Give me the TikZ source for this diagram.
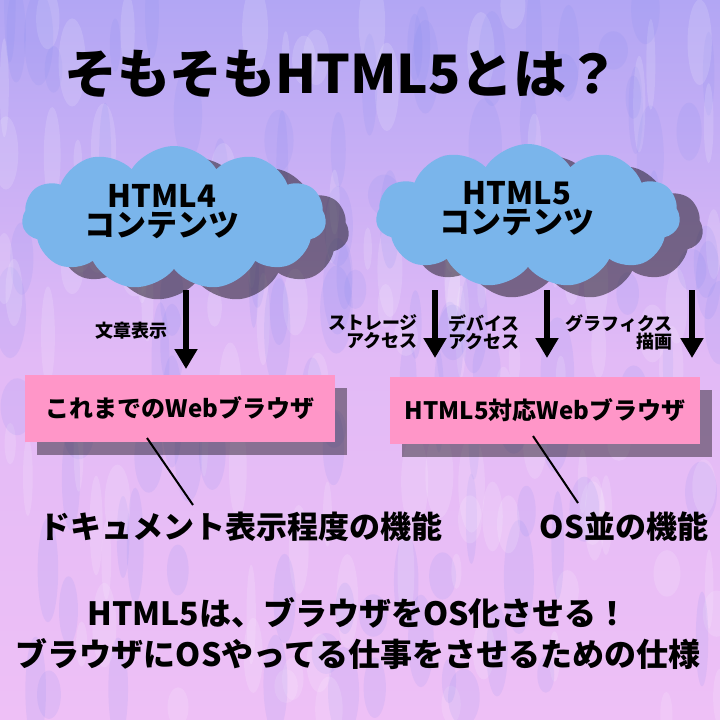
\documentclass[tikz,border=0pt]{standalone}
\usepackage{fontspec}
\setmainfont{Noto Sans CJK JP}
\usetikzlibrary{shapes.symbols, arrows.meta, positioning}

\definecolor{cloudblue}{RGB}{122,181,235}
\definecolor{boxpink}{RGB}{255,150,200}
\definecolor{bgtop}{RGB}{178,166,244}
\definecolor{bgmid}{RGB}{226,186,246}
\definecolor{bgbottom}{RGB}{238,192,246}
\definecolor{streakblue}{RGB}{125,135,238}

\newcommand{\jpsize}[1]{\fontsize{#1}{#1}\selectfont\bfseries}

\tikzset{
  contentcloud/.style={cloud, cloud puffs=11, cloud puff arc=115, cloud ignores aspect,
    minimum width=304pt, minimum height=144pt, inner sep=0pt, fill=cloudblue},
  cloudshadow/.style={contentcloud, fill=black, fill opacity=0.45},
  browserbox/.style={fill=boxpink, minimum width=310pt, minimum height=67pt, inner sep=0pt},
  boxshadow/.style={browserbox, fill=black, fill opacity=0.4},
  bigarrow/.style={line width=6.5pt, -{Triangle[length=20pt,width=22pt]}},
  featurelabel/.style={font=\jpsize{18}, inner sep=0pt},
}

\begin{document}
\begin{tikzpicture}[x=1pt, y=-1pt]
\useasboundingbox (0,0) rectangle (720,720);

% background
\fill[top color=bgtop, bottom color=bgbottom, middle color=bgmid] (0,0) rectangle (720,720);
\begin{scope}
  \clip (0,0) rectangle (720,720);
  \pgfmathsetseed{42}
  \foreach \i in {1,...,110} {
    \fill[streakblue, opacity=0.12] ({rnd*720},{rnd*720}) ellipse ({5+rnd*12} and {18+rnd*40});
    \fill[white, opacity=0.14] ({rnd*720},{rnd*720}) ellipse ({4+rnd*10} and {15+rnd*35});
  }
\end{scope}

\node[font=\jpsize{53}] (title) at (342,74) {そもそもHTML5とは？};

% arrows (behind the clouds)
\coordinate (docTop)   at (186,290);
\coordinate (docTip)   at (186,369);
\coordinate (storTop)  at (435,290);
\coordinate (storTip)  at (435,358);
\coordinate (devTop)   at (547,290);
\coordinate (devTip)   at (547,358);
\coordinate (gfxTop)   at (692,290);
\coordinate (gfxTip)   at (692,358);
\draw[bigarrow] (docTop) -- (docTip);
\draw[bigarrow] (storTop) -- (storTip);
\draw[bigarrow] (devTop) -- (devTip);
\draw[bigarrow] (gfxTop) -- (gfxTip);

% clouds
\node[cloudshadow] (html4shadow) at (197,230) {};
\node[contentcloud] (html4cloud) at (174,218) {};
\node[cloudshadow] (html5shadow) at (551,228) {};
\node[contentcloud] (html5cloud) at (528,216) {};
\node[align=center, font=\jpsize{31}] (html4text) at (162,212) {HTML4\\[-2pt]コンテンツ};
\node[align=center, font=\jpsize{31}] (html5text) at (517,209) {HTML5\\[-2pt]コンテンツ};

% feature labels
\node[featurelabel] (doclabel) at (131,331) {文章表示};
\node[featurelabel, anchor=east, align=right] (storlabel) at (418,332) {ストレージ\\アクセス};
\node[featurelabel, anchor=west, align=left] (devlabel) at (448,332) {デバイス\\アクセス};
\node[featurelabel, anchor=east, align=right] (gfxlabel) at (673,332) {グラフィクス\\描画};

% browsers
\node[boxshadow] (oldshadow) at (192,421) {};
\node[browserbox, font=\jpsize{24}] (oldbrowser) at (180,408) {これまでのWebブラウザ};
\node[boxshadow] (newshadow) at (557,423) {};
\node[browserbox, font=\jpsize{24}] (newbrowser) at (545,410) {HTML5対応Webブラウザ};

\node[font=\jpsize{31}] (docfunc) at (241,527) {ドキュメント表示程度の機能};
\node[font=\jpsize{31}] (osfunc) at (624,527) {OS並の機能};

\coordinate (oldTail) at (147,438);
\coordinate (oldHead) at (193,505);
\coordinate (newTail) at (533,436);
\coordinate (newHead) at (578,503);
\draw[line width=2pt] (oldTail) -- (oldHead);
\draw[line width=2pt] (newTail) -- (newHead);

% summary
\node[font=\jpsize{32}] (summaryA) at (358,613) {HTML5は、ブラウザをOS化させる！};
\node[font=\jpsize{32}, below=3pt of summaryA] (summaryB) {ブラウザにOSやってる仕事をさせるための仕様};
\end{tikzpicture}
\end{document}
